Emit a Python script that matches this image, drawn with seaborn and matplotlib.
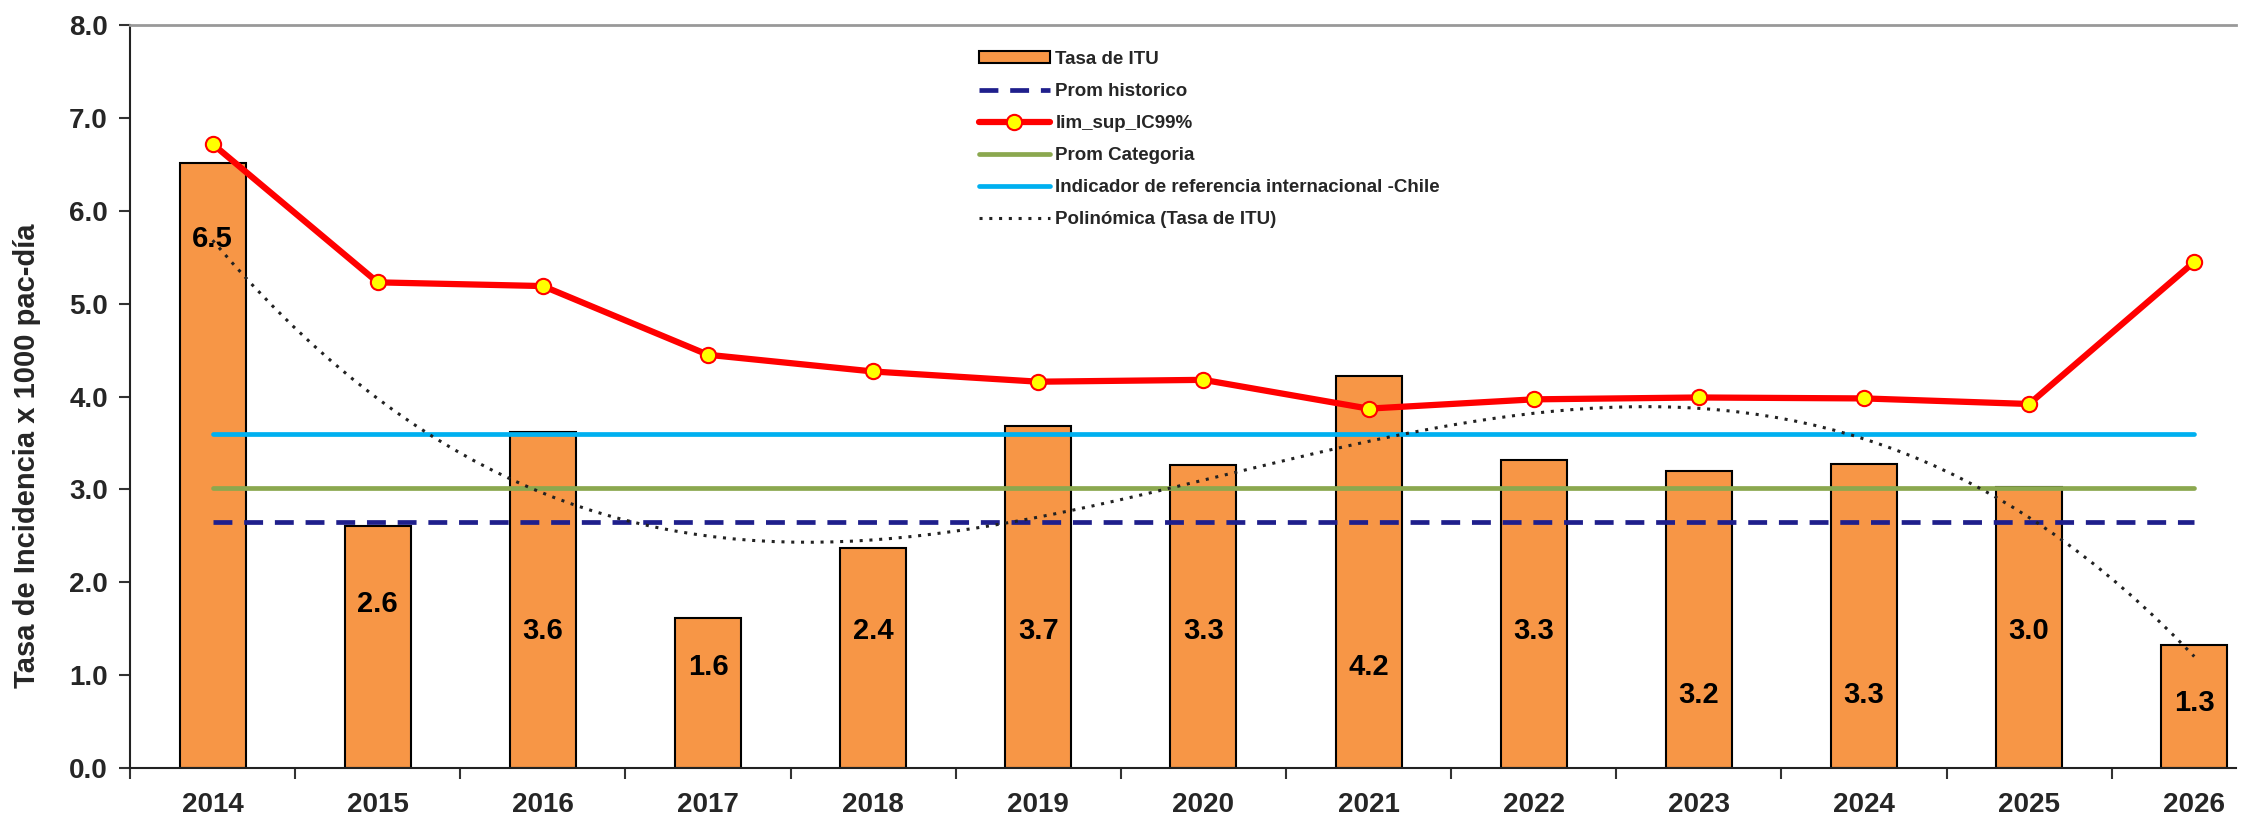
import numpy as np
import pandas as pd
import matplotlib
matplotlib.use("Agg")
import matplotlib.pyplot as plt
import seaborn as sns

# Datos
anios = ["2014", "2015", "2016", "2017", "2018", "2019", "2020",
         "2021", "2022", "2023", "2024", "2025", "2026"]
tasa_itu = [6.52, 2.61, 3.62, 1.61, 2.37, 3.68, 3.26, 4.22, 3.32, 3.20, 3.27, 3.03, 1.32]
etiquetas = ["6.5", "2.6", "3.6", "1.6", "2.4", "3.7", "3.3", "4.2", "3.3", "3.2", "3.3", "3.0", "1.3"]
lim_sup_ic99 = [6.72, 5.23, 5.19, 4.45, 4.27, 4.16, 4.18, 3.87, 3.97, 3.99, 3.98, 3.92, 5.45]
prom_historico = 2.65
prom_categoria = 3.02
ref_chile = 3.60

# altura donde va cada etiqueta dentro de la barra
pos_etiqueta = [5.70, 1.77, 1.47, 1.09, 1.47, 1.47, 1.47, 1.09, 1.47, 0.79, 0.79, 1.47, 0.70]

df = pd.DataFrame({"anio": anios, "tasa": tasa_itu, "lim": lim_sup_ic99,
                   "idx": np.arange(len(anios))})

sns.set_style("white")
plt.rcParams['font.family'] = ['Liberation Sans', 'DejaVu Sans']

fig = plt.figure(figsize=(22.65, 8.19), dpi=100)
ax = fig.add_axes([0.0574, 0.0623, 0.9296, 0.907])

sns.barplot(data=df, x="anio", y="tasa", order=anios, color="#F79646",
            saturation=1, width=0.4, edgecolor="black", linewidth=1.5,
            ax=ax, label="Tasa de ITU", zorder=2)

x = df["idx"].to_numpy()
ax.plot(x, [prom_historico] * len(x), color="#1F1F8C", lw=3.4,
        ls=(0, (4, 2.5)), label="Prom historico", zorder=3)
ax.plot(x, lim_sup_ic99, color="#FF0000", lw=4.5, marker="o", ms=11,
        mfc="#FFFF00", mec="#FF0000", mew=1.5, label="lim_sup_IC99%", zorder=5)
ax.plot(x, [prom_categoria] * len(x), color="#8BA84F", lw=3.4,
        label="Prom Categoria", zorder=3)
ax.plot(x, [ref_chile] * len(x), color="#00B0F0", lw=3.4,
        label="Indicador de referencia internacional -Chile", zorder=3)

# linea de tendencia polinomica (como en Excel)
sns.regplot(data=df, x="idx", y="tasa", order=3, ci=None, scatter=False,
            ax=ax, line_kws=dict(color="#222222", lw=2.2, ls=(0, (1, 2.2)),
                                 zorder=4))
ax.lines[-1].set_label("Polinómica (Tasa de ITU)")

for i, (txt, yy) in enumerate(zip(etiquetas, pos_etiqueta)):
    ax.text(i, yy, txt, ha="center", va="center", fontsize=21,
            fontweight="bold", color="black", zorder=6)

ax.set_xlim(-0.5, 12.25)
ax.set_ylim(0, 8)
ax.set_yticks(np.arange(0, 8.1, 1.0))
ax.set_yticklabels([f"{v:.1f}" for v in np.arange(0, 8.1, 1.0)],
                   fontsize=20, fontweight="bold")
ax.set_xticks(np.arange(len(anios)))
ax.set_xticklabels(anios, fontsize=20, fontweight="bold")
ax.set_xticks(np.arange(len(anios)) - 0.5, minor=True)
ax.tick_params(axis="x", which="major", length=0, pad=17)
ax.tick_params(axis="x", which="minor", length=8, width=1.5, color="#333333",
               direction="out", bottom=True)
ax.tick_params(axis="y", length=8, width=1.5, color="#333333", direction="out",
               left=True, pad=8)
ax.set_xlabel("")
ax.set_ylabel("Tasa de Incidencia x 1000 pac-día", fontsize=21,
              fontweight="bold", va="center")
ax.yaxis.set_label_coords(-0.049, 0.42)

for s in ["left", "bottom"]:
    ax.spines[s].set_color("#222222")
    ax.spines[s].set_linewidth(1.5)
ax.spines["top"].set_color("#999999")
ax.spines["top"].set_linewidth(2)
ax.spines["right"].set_visible(False)

h, l = ax.get_legend_handles_labels()
orden = ["Tasa de ITU", "Prom historico", "lim_sup_IC99%", "Prom Categoria",
         "Indicador de referencia internacional -Chile", "Polinómica (Tasa de ITU)"]
hd = dict(zip(l, h))
leg = ax.legend([hd[k] for k in orden], orden, loc="upper left",
                bbox_to_anchor=(0.395, 0.988), frameon=False,
                prop={"size": 13.5, "weight": "bold"}, handlelength=3.8,
                handletextpad=0.3, labelspacing=0.8, handleheight=0.6)

fig.savefig("out.png", dpi=100)
